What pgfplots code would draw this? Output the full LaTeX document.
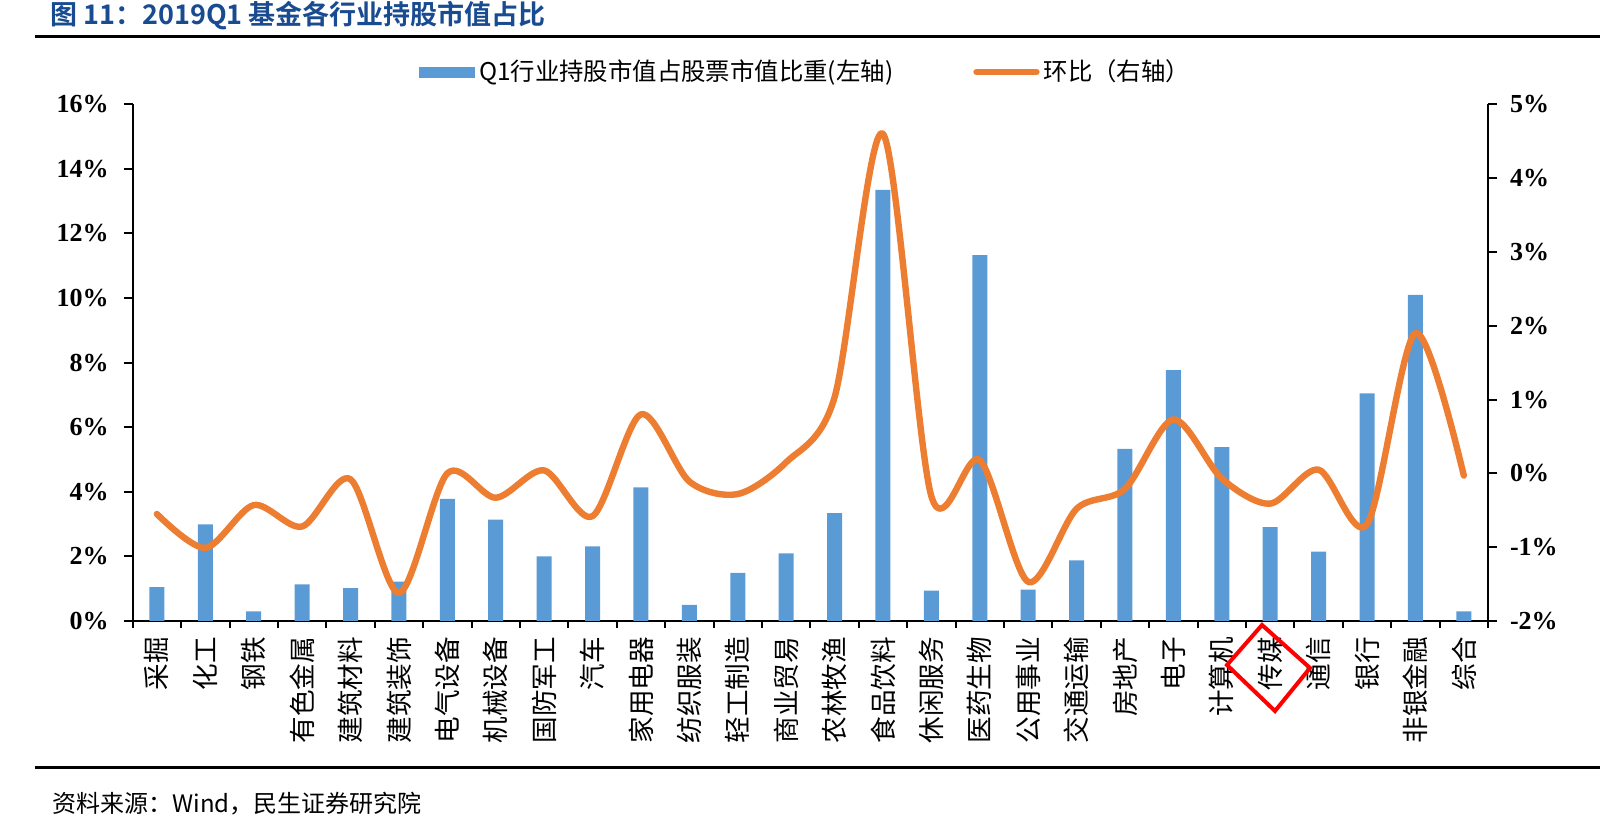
\documentclass[border=0pt]{standalone}
\usepackage{fontspec}
\usepackage{pgfplots}
\usepackage{pgfplotstable}
\pgfplotsset{compat=1.18}
\newfontfamily\cjk{Noto Sans CJK SC}[BoldFont={Noto Sans CJK SC Bold}]
\newfontfamily\tnr{Liberation Serif}
\definecolor{barblue}{HTML}{5B9BD5}
\definecolor{lineor}{HTML}{ED7D31}
\definecolor{titleblue}{RGB}{25,75,145}

% idx, holding share (left axis, %), change q/q (right axis, %)
\pgfplotstableread{
idx share qoq
0 1.05 -0.55
1 2.99 -1.01
2 0.30 -0.43
3 1.13 -0.72
4 1.02 -0.08
5 1.22 -1.62
6 3.78 0.00
7 3.14 -0.33
8 2.00 0.04
9 2.31 -0.58
10 4.14 0.80
11 0.50 -0.11
12 1.49 -0.28
13 2.09 0.15
14 3.34 1.03
15 13.35 4.60
16 0.94 -0.31
17 11.33 0.18
18 0.97 -1.47
19 1.88 -0.48
20 5.33 -0.21
21 7.77 0.73
22 5.38 -0.07
23 2.91 -0.41
24 2.15 0.05
25 7.05 -0.69
26 10.10 1.90
27 0.30 -0.03
}\data

\begin{document}
\begin{tikzpicture}
\useasboundingbox (0,0) rectangle (800pt,408.5pt);

% title and rules
\node[anchor=west, inner sep=0pt, text=titleblue, font=\cjk\bfseries\fontsize{13.5}{13.5}\selectfont]
  at (25pt,400.5pt) {图 11：2019Q1 基金各行业持股市值占比};
\draw[line width=1.5pt] (17.5pt,390pt) -- (800pt,390pt);
\draw[line width=1.5pt] (17.5pt,24.5pt) -- (800pt,24.5pt);
\node[anchor=west, inner sep=0pt, font=\cjk\fontsize{12}{12}\selectfont]
  at (26pt,6.5pt) {资料来源：Wind，民生证券研究院};

\begin{axis}[
  at={(66.35pt,98pt)}, anchor=south west,
  scale only axis, width=677.65pt, height=258.35pt,
  xmin=-0.5, xmax=27.5, ymin=0, ymax=16,
  axis x line*=bottom, axis y line*=left,
  axis line style={line width=1pt, -},
  tick align=outside,
  tick style={line width=1pt, black},
  major tick length=4.5pt, minor tick length=3.5pt,
  xtick={0,...,27},
  major x tick style={draw=none},
  minor xtick={-0.5,0.5,...,27.5},
  xticklabels={采掘,化工,钢铁,有色金属,建筑材料,建筑装饰,电气设备,机械设备,国防军工,汽车,家用电器,纺织服装,轻工制造,商业贸易,农林牧渔,食品饮料,休闲服务,医药生物,公用事业,交通运输,房地产,电子,计算机,传媒,通信,银行,非银金融,综合},
  xticklabel style={rotate=90, anchor=east, font=\cjk\fontsize{13.3}{14}\selectfont},
  ytick={0,2,...,16},
  yticklabels={0\%,2\%,4\%,6\%,8\%,10\%,12\%,14\%,16\%},
  yticklabel style={font=\tnr\bfseries\fontsize{13}{13}\selectfont, xshift=-4pt},
  clip=false,
]
\addplot[ybar, bar width=7.5pt, fill=barblue, draw=none] table[x=idx, y=share]{\data};
\end{axis}

\begin{axis}[
  at={(66.35pt,98pt)}, anchor=south west,
  scale only axis, width=677.65pt, height=258.35pt,
  xmin=-0.5, xmax=27.5, ymin=-2, ymax=5,
  axis x line=none, axis y line*=right,
  axis line style={line width=1pt, -},
  tick align=outside,
  tick style={line width=1pt, black},
  major tick length=4.5pt,
  ytick={-2,...,5},
  yticklabels={-2\%,-1\%,0\%,1\%,2\%,3\%,4\%,5\%},
  yticklabel style={font=\tnr\bfseries\fontsize{13}{13}\selectfont, xshift=3pt},
  clip=false,
  legend columns=2,
  legend style={at={(0.2112,1.0625)}, anchor=west, draw=none, fill=none,
    inner sep=0pt, font=\cjk\fontsize{12.2}{12.2}\selectfont,
    /tikz/every even column/.append style={column sep=38pt}},
  legend cell align=left,
]
\addlegendimage{legend image code/.code={\fill[barblue] (0pt,-2.5pt) rectangle (27.5pt,2.5pt);}}
\addlegendentry{Q1行业持股市值占股票市值比重(左轴)}
\addplot[lineor, line width=3.2pt, smooth, no marks, line cap=round, line join=round,
  legend image code/.code={\draw[lineor, line width=3.2pt, line cap=round] (0pt,0pt) -- (30pt,0pt);}]
  table[x=idx, y=qoq]{\data};
\addlegendentry{环比（右轴）}
\end{axis}

% highlight around 传媒
\draw[red, line width=2pt] (613.5pt,76pt) -- (631pt,96pt) -- (655pt,74.5pt) -- (637.5pt,53pt) -- cycle;
\end{tikzpicture}
\end{document}
